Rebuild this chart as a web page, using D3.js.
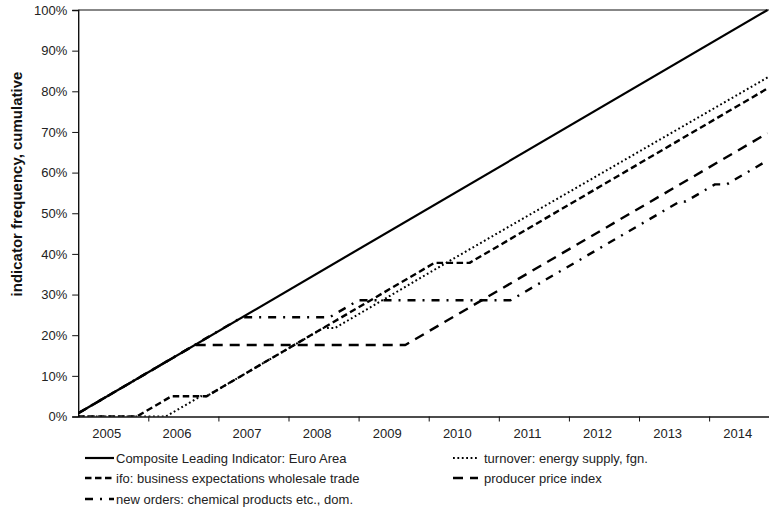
<!DOCTYPE html>
<html>
<head>
<meta charset="utf-8">
<script src="https://cdn.jsdelivr.net/npm/d3@7"></script>
<style>
  html, body { margin: 0; padding: 0; background: #fff; }
  svg { display: block; font-family: "Liberation Sans", Arial, sans-serif; }
</style>
</head>
<body>
<svg id="chart" width="769" height="509"></svg>
<script>
// Cumulative share of months in which each indicator was selected (percent),
// given at the months where the slope changes.
const compositeMonths = ["2005-01", "2014-11"];
const compositeValues = [0.8, 100];

const turnoverMonths = ["2005-01", "2006-04", "2006-10", "2006-11", "2008-07", "2008-09", "2010-04", "2014-11"];
const turnoverValues = [0, 0, 5.0, 5.0, 21.8, 21.8, 37.8, 83.4];

const ifoMonths = ["2005-01", "2005-11", "2006-05", "2006-11", "2010-02", "2010-08", "2014-11"];
const ifoValues = [0, 0, 5.0, 5.0, 37.8, 37.8, 80.7];

const ppiMonths = ["2005-01", "2006-09", "2009-09", "2014-11"];
const ppiValues = [0.8, 17.6, 17.6, 69.7];

const ordersMonths = ["2005-01", "2007-05", "2008-08", "2009-01", "2011-03", "2013-08", "2013-09", "2014-02", "2014-04", "2014-11"];
const ordersValues = [0.8, 24.4, 24.4, 28.6, 28.6, 52.9, 52.9, 57.1, 57.1, 63.0];

const years = [2005, 2006, 2007, 2008, 2009, 2010, 2011, 2012, 2013, 2014];
const yTicks = [0, 10, 20, 30, 40, 50, 60, 70, 80, 90, 100];
const yTitle = "indicator frequency, cumulative";

const seriesNames = [
  "Composite Leading Indicator: Euro Area",
  "turnover: energy supply, fgn.",
  "ifo: business expectations wholesale trade",
  "producer price index",
  "new orders: chemical products etc., dom."
];

// months counted from January 2005
const monthIndex = s => {
  const [yr, mo] = s.split("-").map(Number);
  return (yr - 2005) * 12 + (mo - 1);
};

const composite = { name: seriesNames[0], months: compositeMonths, values: compositeValues, dash: null, width: 2.2 };
const turnover = { name: seriesNames[1], months: turnoverMonths, values: turnoverValues, dash: "1.8,2.6", width: 2 };
const ifo = { name: seriesNames[2], months: ifoMonths, values: ifoValues, dash: "6.5,3.5", width: 2.4 };
const ppi = { name: seriesNames[3], months: ppiMonths, values: ppiValues, dash: "10,7", width: 2.4 };
const orders = { name: seriesNames[4], months: ordersMonths, values: ordersValues, dash: "8,7,2,7", width: 2.4 };

// drawing order: solid composite line last so it sits on top
const drawOrder = [turnover, ifo, ppi, orders, composite];

const svg = d3.select("#chart");
const mLeft = 78.2, mRight = 769, mTop = 10, mBottom = 416.5;

const x = d3.scaleLinear().domain([0, 118.25]).range([mLeft, mRight]);
const y = d3.scaleLinear().domain([0, 100]).range([mBottom, mTop]);

svg.append("defs").append("clipPath").attr("id", "plotclip")
  .append("rect").attr("x", mLeft).attr("y", mTop - 2)
  .attr("width", mRight - mLeft + 2).attr("height", mBottom - mTop + 2);

// frame: top border
svg.append("line")
  .attr("x1", mLeft).attr("x2", mRight).attr("y1", mTop).attr("y2", mTop)
  .attr("stroke", "#111").attr("stroke-width", 1.2);

// y axis
const yAxis = d3.axisLeft(y).tickValues(yTicks).tickFormat(d => d + "%").tickSize(6).tickPadding(5);
const gy = svg.append("g").attr("transform", `translate(${mLeft},0)`).call(yAxis);
gy.select(".domain").attr("stroke", "#111").attr("stroke-width", 1.4);
gy.selectAll(".tick line").attr("stroke", "#111");
gy.selectAll(".tick text").attr("font-size", 13).attr("fill", "#222")
  .attr("font-family", "Liberation Sans, Arial, sans-serif");

// x axis: ticks at year boundaries, year labels inside each year
const xAxis = d3.axisBottom(x)
  .tickValues(years.slice(1).map(yr => (yr - 2005) * 12))
  .tickFormat("").tickSize(5).tickSizeOuter(0);
const gx = svg.append("g").attr("transform", `translate(0,${mBottom})`).call(xAxis);
gx.select(".domain").attr("stroke", "#111").attr("stroke-width", 1.6);
gx.selectAll(".tick line").attr("stroke", "#111");

svg.append("g").selectAll("text").data(years).join("text")
  .attr("x", d => x((d - 2005) * 12 + 4.9))
  .attr("y", mBottom + 21)
  .attr("text-anchor", "middle")
  .attr("font-size", 13)
  .attr("fill", "#222")
  .text(d => d);

// y-axis title
svg.append("text")
  .attr("transform", `translate(22,184) rotate(-90)`)
  .attr("text-anchor", "middle")
  .attr("font-size", 15)
  .attr("font-weight", "bold")
  .attr("fill", "#111")
  .text(yTitle);

// series lines
const line = d3.line().x(d => x(d[0])).y(d => y(d[1]));
const plot = svg.append("g").attr("clip-path", "url(#plotclip)");
drawOrder.forEach(s => {
  const pts = s.months.map((m, i) => [monthIndex(m), s.values[i]]);
  plot.append("path")
    .attr("d", line(pts))
    .attr("fill", "none")
    .attr("stroke", "#000")
    .attr("stroke-width", s.width)
    .attr("stroke-dasharray", s.dash)
    .attr("stroke-linejoin", "round");
});

// legend: two columns, three rows
const legendItems = [
  { s: composite, x: 85, y: 458, len: 29, tx: 116 },
  { s: turnover, x: 453, y: 458, len: 25, tx: 484 },
  { s: ifo, x: 85, y: 478, len: 27, tx: 116 },
  { s: ppi, x: 453, y: 478, len: 25, tx: 484 },
  { s: orders, x: 85, y: 499, len: 29, tx: 116 }
];

const lg = svg.append("g");
legendItems.forEach(it => {
  lg.append("line")
    .attr("x1", it.x).attr("x2", it.x + it.len)
    .attr("y1", it.y).attr("y2", it.y)
    .attr("stroke", "#000")
    .attr("stroke-width", it.s.width)
    .attr("stroke-dasharray", it.s.dash);
  lg.append("text")
    .attr("x", it.tx).attr("y", it.y)
    .attr("dy", "0.35em")
    .attr("font-size", 13)
    .attr("fill", "#222")
    .text(it.s.name);
});
</script>
</body>
</html>
